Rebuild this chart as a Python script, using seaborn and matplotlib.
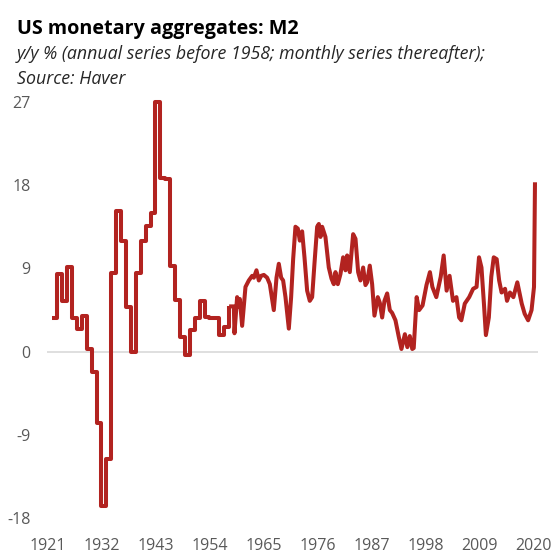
import matplotlib
matplotlib.use("Agg")
import matplotlib.pyplot as plt
import pandas as pd
import seaborn as sns

# annual series (y/y %), one value per calendar year
annual_years = list(range(1922, 1958))
annual_vals = [3.6, 8.35, 5.5, 9.2, 3.6, 2.5, 3.9, 0.25, -2.2, -7.7,
               -16.6, -11.6, 8.5, 15.2, 12.0, 4.8, 0.0, 8.5, 12.0, 13.6,
               15.0, 27.0, 18.8, 18.7, 9.3, 5.6, 1.6, -0.4, 2.4, 3.7,
               5.5, 3.8, 3.6, 3.7, 1.8, 2.7]

# monthly series (decimal year, y/y %)
monthly_years = [1958.0, 1958.96, 1959.09, 1959.63, 1959.97, 1960.18, 1960.65, 1961.33,
                 1962.01, 1962.69, 1963.03, 1963.57, 1964.05, 1964.52, 1965.07, 1965.74,
                 1966.29, 1967.1, 1967.65, 1968.12, 1968.6, 1969.0, 1969.48, 1970.16,
                 1970.63, 1971.04, 1971.51, 1971.99, 1972.4, 1972.87, 1973.35, 1973.89,
                 1974.43, 1974.91, 1975.38, 1975.93, 1976.27, 1976.61, 1976.95, 1977.62,
                 1978.3, 1978.85, 1979.32, 1979.66, 1980.14, 1980.68, 1981.22, 1981.7,
                 1982.04, 1982.58, 1983.26, 1983.74, 1984.28, 1984.75, 1985.3, 1985.77,
                 1986.11, 1986.65, 1987.13, 1987.6, 1988.28, 1988.69, 1989.17, 1989.64,
                 1990.19, 1990.73, 1991.2, 1991.88, 1992.56, 1993.1, 1993.8, 1994.3,
                 1994.8, 1995.3, 1995.6, 1996.2, 1996.7, 1997.4, 1998.2, 1998.9,
                 1999.4, 2000.2, 2001.1, 2001.7, 2002.3, 2002.9, 2003.6, 2004.3,
                 2004.85, 2005.3, 2006.0, 2006.9, 2007.7, 2008.4, 2008.9, 2009.4,
                 2009.9, 2010.3, 2010.9, 2011.4, 2011.9, 2012.5, 2013.0, 2013.5,
                 2014.2, 2014.6, 2015.2, 2015.9, 2016.7, 2017.6, 2018.2, 2018.9,
                 2019.6, 2020.1, 2020.3]
monthly_vals = [4.9, 4.9, 2.0, 5.9, 4.9, 5.7, 2.8, 7.0,
                7.7, 8.2, 8.0, 8.8, 7.7, 8.2, 8.3, 8.0,
                7.3, 4.5, 8.0, 9.5, 8.0, 7.7, 5.9, 2.5,
                5.9, 10.0, 13.5, 13.3, 12.0, 13.0, 10.2, 6.6,
                5.5, 5.9, 9.5, 13.5, 13.8, 12.4, 13.5, 12.4,
                9.1, 7.9, 7.3, 8.6, 7.3, 8.4, 10.2, 8.8,
                10.4, 8.6, 12.7, 12.2, 8.6, 7.7, 9.1, 7.2,
                7.5, 9.3, 7.3, 3.9, 5.9, 5.3, 3.7, 5.5,
                6.3, 4.5, 4.2, 3.4, 1.6, 0.3, 1.9, 0.5,
                1.7, 0.3, 0.4, 5.9, 4.5, 5.0, 7.2, 8.6,
                7.0, 5.9, 8.1, 10.4, 6.6, 8.2, 5.5, 5.9,
                3.7, 3.4, 5.2, 5.9, 6.8, 7.0, 10.2, 9.1,
                5.2, 1.8, 3.7, 8.1, 10.2, 10.0, 7.7, 6.4,
                6.8, 5.5, 6.4, 5.9, 7.5, 5.2, 4.1, 3.4,
                4.5, 7.0, 18.3]

tick_years = [1921, 1932, 1943, 1954, 1965, 1976, 1987, 1998, 2009, 2020]
y_ticks = [-18, -9, 0, 9, 18, 27]

LINE = "#B22320"

sns.set_theme(style="white")
plt.rcParams["font.family"] = ["Open Sans", "DejaVu Sans"]
plt.rcParams["axes.unicode_minus"] = False

# annual part as steps, ending where the monthly series takes over
annual_df = pd.DataFrame({
    "year": annual_years + [monthly_years[0]],
    "value": annual_vals + [monthly_vals[0]],
})
monthly_df = pd.DataFrame({"year": monthly_years, "value": monthly_vals})

fig = plt.figure(figsize=(5.54, 5.54), dpi=100)
ax = fig.add_axes([0.0848, 0.0641, 0.8862, 0.7523])

ax.axhline(0, color="#D9D9D9", lw=1.2, zorder=1)
sns.lineplot(data=annual_df, x="year", y="value", ax=ax, color=LINE, lw=2.9,
             drawstyle="steps-post", zorder=3)
sns.lineplot(data=monthly_df, x="year", y="value", ax=ax, color=LINE, lw=2.9,
             zorder=3)
for line in ax.lines[1:]:
    line.set_solid_joinstyle("round")
    line.set_solid_capstyle("butt")
    line.set_clip_on(False)

ax.set_xlim(1920.9, 2020.9)
ax.set_ylim(-18, 27)
ax.set_xticks(tick_years)
ax.set_yticks(y_ticks)
ax.set_xlabel("")
ax.set_ylabel("")
ax.tick_params(axis="both", length=0, labelsize=11.5, colors="#595959")
ax.tick_params(axis="x", pad=14)
ax.tick_params(axis="y", pad=12)
sns.despine(ax=ax, left=True, bottom=True)
ax.grid(False)

fig.text(0.031, 0.938, "US monetary aggregates: M2", fontsize=14.2,
         fontweight="bold", color="#000000", va="baseline")
fig.text(0.031, 0.893, "y/y % (annual series before 1958; monthly series thereafter);",
         fontsize=12.8, style="italic", color="#262626", va="baseline")
fig.text(0.031, 0.849, "Source: Haver", fontsize=12.8, style="italic",
         color="#262626", va="baseline")

fig.savefig("out.png", dpi=100)
